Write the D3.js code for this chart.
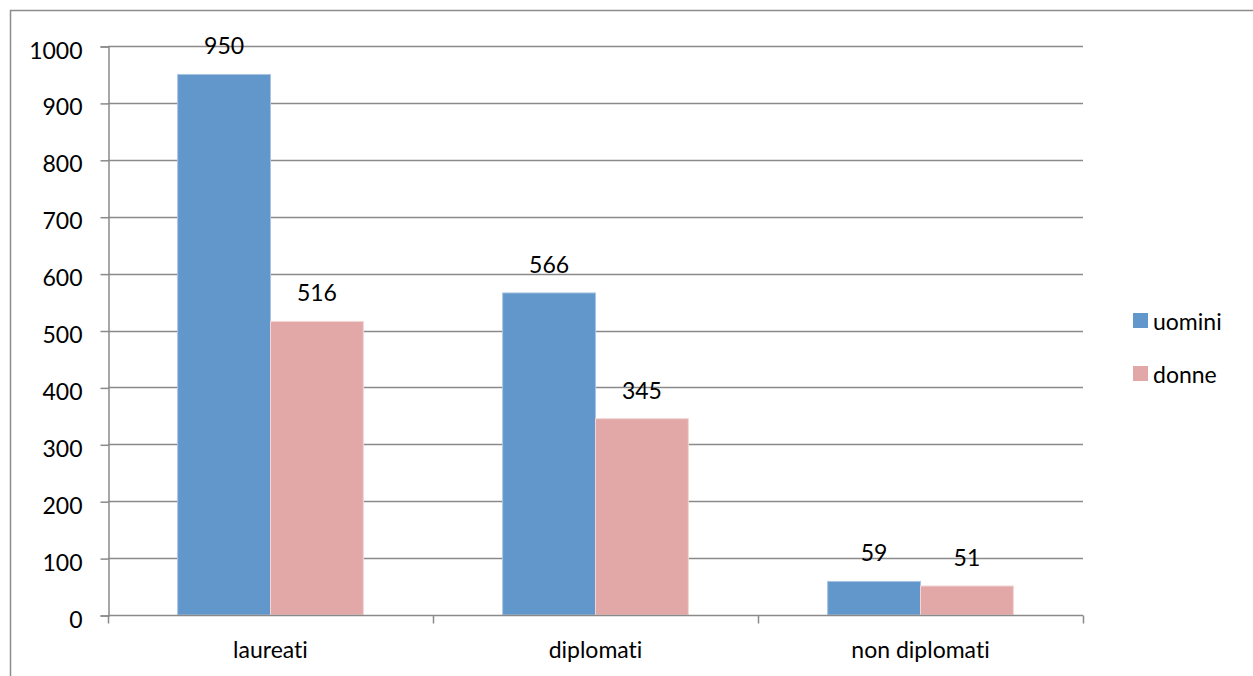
<!DOCTYPE html>
<html>
<head>
<meta charset="utf-8">
<script src="https://cdn.jsdelivr.net/npm/d3@7"></script>
<style>
  body { margin: 0; background: #fff; }
  text { font-family: Lato, "Open Sans", sans-serif; fill: #000; font-variant-ligatures: none; }
</style>
</head>
<body>
<div id="chart"></div>
<script>
var categories = ["laureati", "diplomati", "non diplomati"];
var seriesNames = ["uomini", "donne"];
var uomini = [950, 566, 59];
var donne = [516, 345, 51];
var yTicks = [0, 100, 200, 300, 400, 500, 600, 700, 800, 900, 1000];

var width = 1253, height = 676;
var plotLeft = 108, plotRight = 1083, plotTop = 46, plotBottom = 615;
var fontSize = "23px";
var colors = {"uomini": "#6197ca", "donne": "#e2a8a7"};
var strokes = {"uomini": "#a9c4e2", "donne": "#f2d6d5"};

var svg = d3.select("#chart").append("svg")
            .attr("width", width)
            .attr("height", height);

// outer frame, runs off the picture at right and bottom
svg.append("rect")
   .attr("x", 10.5).attr("y", 10.5)
   .attr("width", width + 20).attr("height", height + 20)
   .attr("fill", "none")
   .attr("stroke", "#8c8c8c")
   .attr("stroke-width", 1.5);

var y = d3.scaleLinear().domain([0, 1000]).range([plotBottom, plotTop]);
var x0 = d3.scaleBand().domain(categories).range([plotLeft, plotRight]).padding(0);
var bw = x0.bandwidth() / 3.5;
var x1 = d3.scaleBand().domain(seriesNames)
           .range([bw * 0.75, x0.bandwidth() - bw * 0.75]).padding(0);

// gridlines
svg.append("g")
   .selectAll("line")
   .data(yTicks.filter(function (d) { return d > 0; }))
   .enter()
   .append("line")
   .attr("x1", plotLeft).attr("x2", plotRight)
   .attr("y1", function (d) { return Math.round(y(d)) + 0.5; })
   .attr("y2", function (d) { return Math.round(y(d)) + 0.5; })
   .attr("stroke", "#8a8a8a")
   .attr("stroke-width", 1.5);

// y axis
var yAxis = svg.append("g")
               .attr("transform", "translate(" + (plotLeft + 0.5) + ",0.5)")
               .call(d3.axisLeft(y).tickValues(yTicks).tickFormat(d3.format("d"))
                       .tickSize(8).tickPadding(18));
yAxis.select(".domain").attr("stroke", "#8a8a8a").attr("stroke-width", 1.5);
yAxis.selectAll(".tick line").attr("stroke", "#8a8a8a").attr("stroke-width", 1.5);
yAxis.selectAll(".tick text")
     .attr("dy", "0.5em")
     .style("font-size", fontSize)
     .style("font-family", "Lato, 'Open Sans', sans-serif")
     .attr("fill", "#000");

// bars
var data = categories.map(function (c, i) {
  return {cat: c, vals: [{s: "uomini", v: uomini[i]}, {s: "donne", v: donne[i]}]};
});

var groups = svg.append("g")
                .selectAll("g")
                .data(data)
                .enter()
                .append("g")
                .attr("transform", function (d) { return "translate(" + x0(d.cat) + ",0)"; });

groups.selectAll("rect")
      .data(function (d) { return d.vals; })
      .enter()
      .append("rect")
      .attr("x", function (d) { return x1(d.s); })
      .attr("y", function (d) { return y(d.v); })
      .attr("width", x1.bandwidth())
      .attr("height", function (d) { return plotBottom - y(d.v); })
      .attr("fill", function (d) { return colors[d.s]; })
      .attr("stroke", function (d) { return strokes[d.s]; })
      .attr("stroke-width", 1);

groups.selectAll("text.val")
      .data(function (d) { return d.vals; })
      .enter()
      .append("text")
      .attr("class", "val")
      .attr("x", function (d) { return x1(d.s) + x1.bandwidth() / 2; })
      .attr("y", function (d) { return y(d.v) - 20; })
      .attr("text-anchor", "middle")
      .style("font-size", fontSize)
      .text(function (d) { return d.v; });

// x axis
var xAxis = svg.append("g")
               .attr("transform", "translate(0," + (plotBottom + 0.5) + ")");
xAxis.append("line")
     .attr("x1", plotLeft).attr("x2", plotRight)
     .attr("stroke", "#8a8a8a").attr("stroke-width", 1.5);
xAxis.selectAll("line.tick")
     .data(categories.concat(["end"]))
     .enter()
     .append("line")
     .attr("class", "tick")
     .attr("x1", function (d, i) { return Math.round(plotLeft + i * x0.bandwidth()) + 0.5; })
     .attr("x2", function (d, i) { return Math.round(plotLeft + i * x0.bandwidth()) + 0.5; })
     .attr("y1", 0).attr("y2", 8)
     .attr("stroke", "#8a8a8a").attr("stroke-width", 1.5);
xAxis.selectAll("text")
     .data(categories)
     .enter()
     .append("text")
     .attr("x", function (d) { return x0(d) + x0.bandwidth() / 2; })
     .attr("y", 42)
     .attr("text-anchor", "middle")
     .style("font-size", fontSize)
     .text(function (d) { return d; });

// legend
var legend = svg.append("g")
                .selectAll("g")
                .data(seriesNames)
                .enter()
                .append("g")
                .attr("transform", function (d, i) { return "translate(1133," + (313 + i * 53) + ")"; });
legend.append("rect")
      .attr("width", 15).attr("height", 15)
      .attr("fill", function (d) { return colors[d]; });
legend.append("text")
      .attr("x", 20).attr("y", 17)
      .style("font-size", fontSize)
      .text(function (d) { return d; });
</script>
</body>
</html>
